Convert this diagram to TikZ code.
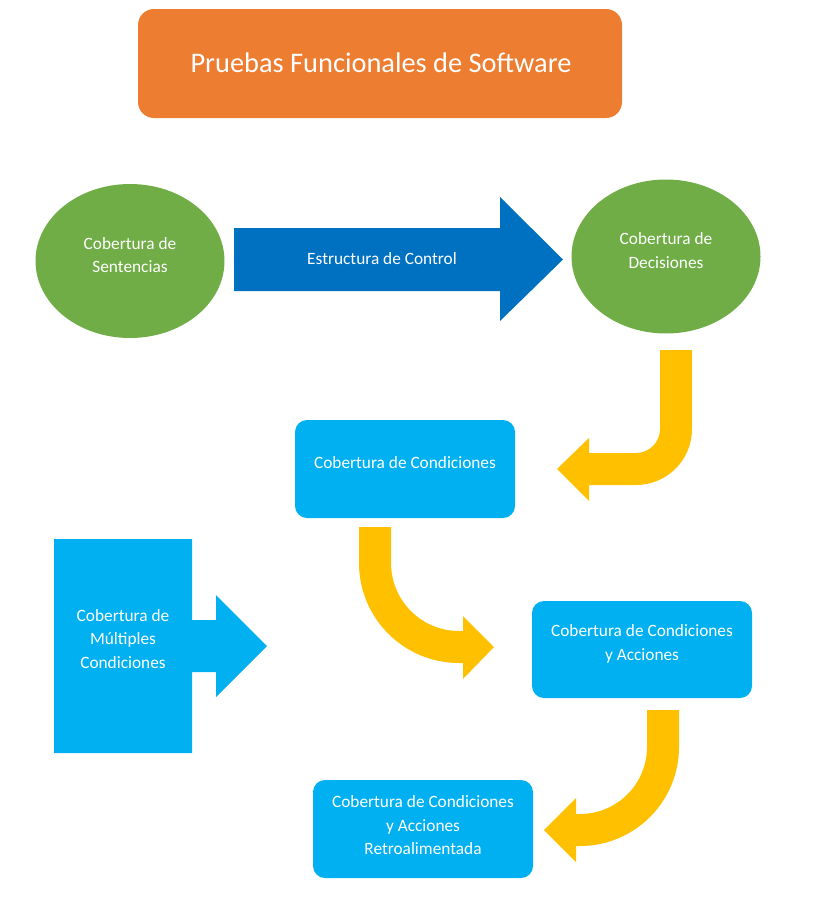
\documentclass[tikz,border=0pt]{standalone}
\usepackage{fontspec}
\setmainfont{Carlito}
\usetikzlibrary{shapes.geometric}
\definecolor{cOrange}{HTML}{ED7D31}
\definecolor{cGreen}{HTML}{70AD47}
\definecolor{cBlue}{HTML}{0070C0}
\definecolor{cLight}{HTML}{00B0F0}
\definecolor{cYellow}{HTML}{FFC000}
\tikzset{
  txt/.style={text=white, align=center, font=\fontsize{17.3}{23.5}\selectfont, inner sep=0pt},
  boxnode/.style={fill=cLight, rounded corners=12pt, minimum width=220pt, minimum height=98pt, inner sep=0pt},
  ell/.style={ellipse, fill=cGreen, minimum width=189pt, minimum height=154pt, inner sep=0pt},
  yarrow/.style={fill=cYellow},
}
\begin{document}
\begin{tikzpicture}[x=1pt,y=-1pt]
\useasboundingbox (0,0) rectangle (823,913);
% title
\node[fill=cOrange, rounded corners=16pt, minimum width=484pt, minimum height=109pt, inner sep=0pt] (title) at (380,63.5) {};
\node[txt, font=\fontsize{28.4}{32}\selectfont] (titletxt) at (381,63) {Pruebas Funcionales de Software};
% ellipses
\node[ell] (e1) at (130,261) {};
\node[txt] (e1t) at (130,255) {Cobertura de\\Sentencias};
\node[ell] (e2) at (666,256.5) {};
\node[txt] (e2t) at (666,250.5) {Cobertura de\\Decisiones};
% blue arrow
\fill[cBlue] (234,228) -- (500,228) -- (500,197) -- (563,259.5) -- (500,321) -- (500,291) -- (234,291) -- cycle;
\node[txt] (ctrl) at (382,259) {Estructura de Control};
% boxes
\node[boxnode] (b1) at (405,469) {};
\node[txt] (b1t) at (405,462.5) {Cobertura de Condiciones};
\node[boxnode, minimum height=97pt] (b2) at (642,649.5) {};
\node[txt] (b2t) at (642,644) {Cobertura de Condiciones\\y Acciones};
\node[boxnode] (b3) at (423,829) {};
\node[txt] (b3t) at (423,825.5) {Cobertura de Condiciones\\y Acciones\\Retroalimentada};
% callout
\fill[cLight] (54,539) -- (192,539) -- (192,620) -- (216,620) -- (216,595) -- (267,646) -- (216,697) -- (216,672) -- (192,672) -- (192,753) -- (54,753) -- cycle;
\node[txt] (mc) at (123,639) {Cobertura de\\Múltiples\\Condiciones};
% yellow arrows
\fill[yarrow] (660,350) -- (660,429) arc[start angle=0, end angle=90, radius=24] -- (589,453) -- (589,438) -- (557,469) -- (589,501) -- (589,485) -- (636,485) arc[start angle=90, end angle=0, radius=56] -- (692,350) -- cycle;
\fill[yarrow] (359,527) -- (359,563) arc[start angle=180, end angle=90, radius=100] -- (463,663) -- (463,679) -- (494,647) -- (463,616) -- (463,631) -- (459,631) arc[start angle=90, end angle=180, radius=68] -- (391,527) -- cycle;
\fill[yarrow] (647,710) -- (647,747) arc[start angle=0, end angle=90, radius=67] -- (576,814) -- (576,798) -- (544,830) -- (576,862) -- (576,846) -- (580,846) arc[start angle=90, end angle=0, radius=99] -- (679,710) -- cycle;
\end{tikzpicture}
\end{document}
